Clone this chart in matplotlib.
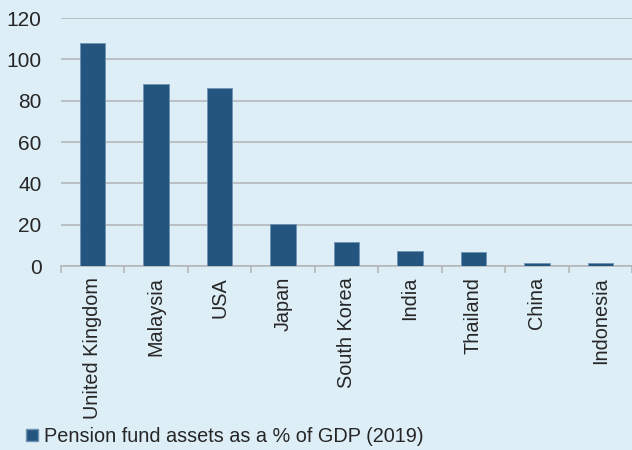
import matplotlib
matplotlib.use("Agg")
import matplotlib.pyplot as plt
import numpy as np
from matplotlib.patches import Patch

categories = ["United Kingdom", "Malaysia", "USA", "Japan", "South Korea",
              "India", "Thailand", "China", "Indonesia"]
values = [108, 88, 86, 20.3, 11.5, 7.2, 7.0, 1.5, 1.5]
yticks = [0, 20, 40, 60, 80, 100, 120]
series_label = "Pension fund assets as a % of GDP (2019)"

bg = "#deeef7"
bar_color = "#24557f"
text_color = "#262626"

plt.rcParams['font.family'] = ['Liberation Sans', 'DejaVu Sans']

fig = plt.figure(figsize=(6.32, 4.5), dpi=100, facecolor=bg)
ax = fig.add_axes([61/632, 1-266/450, 1-61/632, (266-18)/450])
ax.set_facecolor(bg)

x = np.arange(len(categories))
ax.bar(x, values, width=0.4, color=bar_color, edgecolor="#6f93b3", linewidth=0.6, zorder=3)

ax.set_xlim(-0.5, len(categories)-0.5)
ax.set_ylim(0, 120)
ax.set_yticks(yticks)
ax.set_yticklabels([str(v) for v in yticks], fontsize=15, color=text_color)
ax.tick_params(axis='y', length=0, pad=14)
ax.yaxis.grid(True, color="#b3b7ba", linewidth=1.2, zorder=0)
ax.set_axisbelow(True)

ax.set_xticks(x)
ax.set_xticklabels(categories, rotation=90, fontsize=14.3, color=text_color)
ax.tick_params(axis='x', which='major', length=0, pad=8)
ax.set_xticks(np.arange(-0.5, len(categories)), minor=True)
ax.tick_params(axis='x', which='minor', length=5, width=1.2, color="#b3b7ba")

for s in ['top', 'right', 'left']:
    ax.spines[s].set_visible(False)
ax.spines['bottom'].set_color("#b3b7ba")
ax.spines['bottom'].set_linewidth(1.2)

handles = [Patch(facecolor=bar_color, edgecolor="#6f93b3", label=series_label)]
fig.legend(handles=handles, loc='lower left', bbox_to_anchor=(8/632, -14/450),
           frameon=False, fontsize=14.3, handlelength=0.6, handleheight=0.6,
           handletextpad=0.3, labelcolor=text_color)

fig.savefig("out.png", dpi=100, facecolor=bg)
